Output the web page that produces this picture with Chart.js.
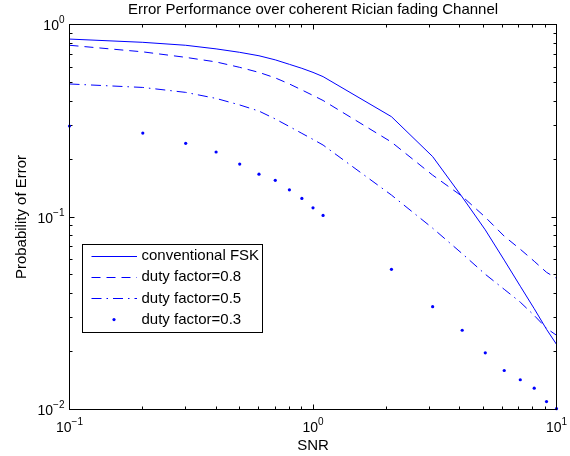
<!DOCTYPE html>
<html>
<head>
<meta charset="utf-8">
<script src="https://cdn.jsdelivr.net/npm/chart.js@4/dist/chart.umd.min.js"></script>
<style>
html,body{margin:0;padding:0;background:#fff;}
#wrap{width:570px;height:456px;position:relative;}
</style>
</head>
<body>
<div id="wrap"><canvas id="c" width="570" height="456"></canvas></div>
<script>
const chartTitle = 'Error Performance over coherent Rician fading Channel';
const xAxisTitle = 'SNR';
const yAxisTitle = 'Probability of Error';

const snr = [0.1, 0.2, 0.3, 0.4, 0.5, 0.6, 0.7, 0.8, 0.9, 1.0, 1.1, 2.1, 3.1, 4.1, 5.1, 6.1, 7.1, 8.1, 9.1, 10];
const seriesNames = ['conventional FSK', 'duty factor=0.8', 'duty factor=0.5', 'duty factor=0.3'];
const fsk    = [0.840, 0.808, 0.780, 0.747, 0.717, 0.688, 0.655, 0.621, 0.592, 0.564, 0.536, 0.332, 0.206, 0.127, 0.0857, 0.0597, 0.0437, 0.0334, 0.0261, 0.0218];
const duty08 = [0.780, 0.721, 0.675, 0.639, 0.599, 0.564, 0.528, 0.491, 0.457, 0.428, 0.403, 0.245, 0.165, 0.128, 0.0998, 0.0795, 0.0680, 0.0589, 0.0516, 0.0480];
const duty05 = [0.491, 0.471, 0.444, 0.413, 0.382, 0.355, 0.323, 0.295, 0.272, 0.253, 0.2365, 0.130, 0.0875, 0.0645, 0.0504, 0.0421, 0.0361, 0.0308, 0.0264, 0.0243];
const duty03 = [0.297, 0.273, 0.2415, 0.2176, 0.1884, 0.167, 0.155, 0.1384, 0.1249, 0.1116, 0.1019, 0.0535, 0.0342, 0.0258, 0.0197, 0.01594, 0.01427, 0.0129, 0.0110, 0.0101];

const xMajorTicks = [0.1, 1, 10];
const xTickBase = ['10', '10', '10'];
const xTickExp = ['\u22121', '0', '1'];
const yMajorTicks = [0.01, 0.1, 1];
const yTickBase = ['10', '10', '10'];
const yTickExp = ['\u22122', '\u22121', '0'];

const FONT = "'Liberation Sans', Arial, Helvetica, sans-serif";
const BLUE = '#0000ff';

function pts(ys) { return snr.map((x, i) => ({x: x, y: ys[i]})); }

function minorValues(min, max) {
  const out = [];
  for (let d = Math.round(Math.log10(min)); d < Math.round(Math.log10(max)); d++) {
    for (let m = 1; m <= 9; m++) out.push({v: m * Math.pow(10, d), major: m === 1});
  }
  out.push({v: max, major: true});
  return out;
}
function crisp(p) { return Math.round(p - 0.5) + 0.5; }

const axesPlugin = {
  id: 'matlabAxes',
  beforeDatasetsDraw(chart) {
    const {ctx, chartArea: a, scales: {x, y}} = chart;
    ctx.save();
    ctx.strokeStyle = '#000';
    ctx.lineWidth = 1;
    ctx.beginPath();
    minorValues(0.1, 10).forEach(t => {
      const px = crisp(x.getPixelForValue(t.v));
      const len = t.major ? 5 : 3;
      ctx.moveTo(px, a.bottom); ctx.lineTo(px, a.bottom - len);
      ctx.moveTo(px, a.top); ctx.lineTo(px, a.top + len);
    });
    minorValues(0.01, 1).forEach(t => {
      const py = crisp(y.getPixelForValue(t.v));
      const len = t.major ? 5 : 3;
      ctx.moveTo(a.left, py); ctx.lineTo(a.left + len, py);
      ctx.moveTo(a.right, py); ctx.lineTo(a.right - len, py);
    });
    ctx.stroke();
    ctx.restore();
  },
  afterDraw(chart) {
    const {ctx, chartArea: a, scales: {x, y}} = chart;
    ctx.save();
    ctx.strokeStyle = '#000';
    ctx.lineWidth = 1;
    ctx.strokeRect(a.left, a.top, a.right - a.left, a.bottom - a.top);
    ctx.fillStyle = '#000';
    ctx.textBaseline = 'alphabetic';
    ctx.textAlign = 'left';
    const baseFont = '14px ' + FONT, expFont = '10px ' + FONT;
    // x tick labels
    xMajorTicks.forEach((v, i) => {
      const px = x.getPixelForValue(v);
      ctx.font = baseFont; const w1 = ctx.measureText(xTickBase[i]).width;
      ctx.font = expFont; const w2 = ctx.measureText(xTickExp[i]).width;
      const sx = px - (w1 + w2) / 2;
      ctx.font = baseFont; ctx.fillText(xTickBase[i], sx, a.bottom + 22);
      ctx.font = expFont; ctx.fillText(xTickExp[i], sx + w1, a.bottom + 15);
    });
    // y tick labels
    yMajorTicks.forEach((v, i) => {
      const py = y.getPixelForValue(v);
      ctx.font = baseFont; const w1 = ctx.measureText(yTickBase[i]).width;
      ctx.font = expFont; const w2 = ctx.measureText(yTickExp[i]).width;
      const sx = a.left - 5 - (w1 + w2);
      ctx.font = baseFont; ctx.fillText(yTickBase[i], sx, py + 5.5);
      ctx.font = expFont; ctx.fillText(yTickExp[i], sx + w1, py - 1.5);
    });
    // titles
    ctx.font = '15px ' + FONT;
    ctx.textAlign = 'center';
    const cx = (a.left + a.right) / 2;
    ctx.fillText(chartTitle, cx, 13.5);
    ctx.fillText(xAxisTitle, cx, 450);
    ctx.save();
    ctx.translate(25.5, (a.top + a.bottom) / 2);
    ctx.rotate(-Math.PI / 2);
    ctx.fillText(yAxisTitle, 0, 0);
    ctx.restore();
    // legend
    const lx = 82.5, ly = 244.5, lw = 180, lh = 88;
    ctx.fillStyle = '#fff';
    ctx.fillRect(lx, ly, lw, lh);
    ctx.strokeStyle = '#000';
    ctx.strokeRect(lx, ly, lw, lh);
    ctx.textAlign = 'left';
    ctx.textBaseline = 'middle';
    ctx.font = '15px ' + FONT;
    chart.data.datasets.forEach((ds, i) => {
      const ry = ly + 11.5 + i * 21.2;
      if (ds.showLine === false) {
        ctx.fillStyle = BLUE;
        ctx.beginPath();
        ctx.arc(114, ry, ds.pointRadius, 0, Math.PI * 2);
        ctx.fill();
      } else {
        ctx.strokeStyle = ds.borderColor;
        ctx.lineWidth = ds.borderWidth;
        ctx.setLineDash(ds.borderDash || []);
        ctx.beginPath();
        ctx.moveTo(91.5, Math.round(ry) + 0.5);
        ctx.lineTo(137, Math.round(ry) + 0.5);
        ctx.stroke();
        ctx.setLineDash([]);
      }
      ctx.fillStyle = '#000';
      ctx.fillText(ds.label, 141.5, ry);
    });
    ctx.restore();
  }
};

new Chart(document.getElementById('c'), {
  type: 'line',
  data: {
    datasets: [
      {label: seriesNames[0], data: pts(fsk), borderColor: BLUE, borderWidth: 1, pointRadius: 0, tension: 0, fill: false},
      {label: seriesNames[1], data: pts(duty08), borderColor: BLUE, borderWidth: 1, borderDash: [9, 6], pointRadius: 0, tension: 0, fill: false},
      {label: seriesNames[2], data: pts(duty05), borderColor: BLUE, borderWidth: 1, borderDash: [10, 5, 1.5, 5], pointRadius: 0, tension: 0, fill: false},
      {label: seriesNames[3], data: pts(duty03), showLine: false, borderColor: BLUE, backgroundColor: BLUE, pointBackgroundColor: BLUE, pointBorderWidth: 0, pointRadius: 1.6, clip: false}
    ]
  },
  options: {
    responsive: false,
    animation: false,
    devicePixelRatio: 1,
    layout: {padding: {left: 69.5, right: 13.5, top: 24.5, bottom: 46.5}},
    plugins: {legend: {display: false}, title: {display: false}, tooltip: {enabled: false}},
    scales: {
      x: {type: 'logarithmic', min: 0.1, max: 10, display: false},
      y: {type: 'logarithmic', min: 0.01, max: 1, display: false}
    }
  },
  plugins: [axesPlugin]
});
</script>
</body>
</html>
